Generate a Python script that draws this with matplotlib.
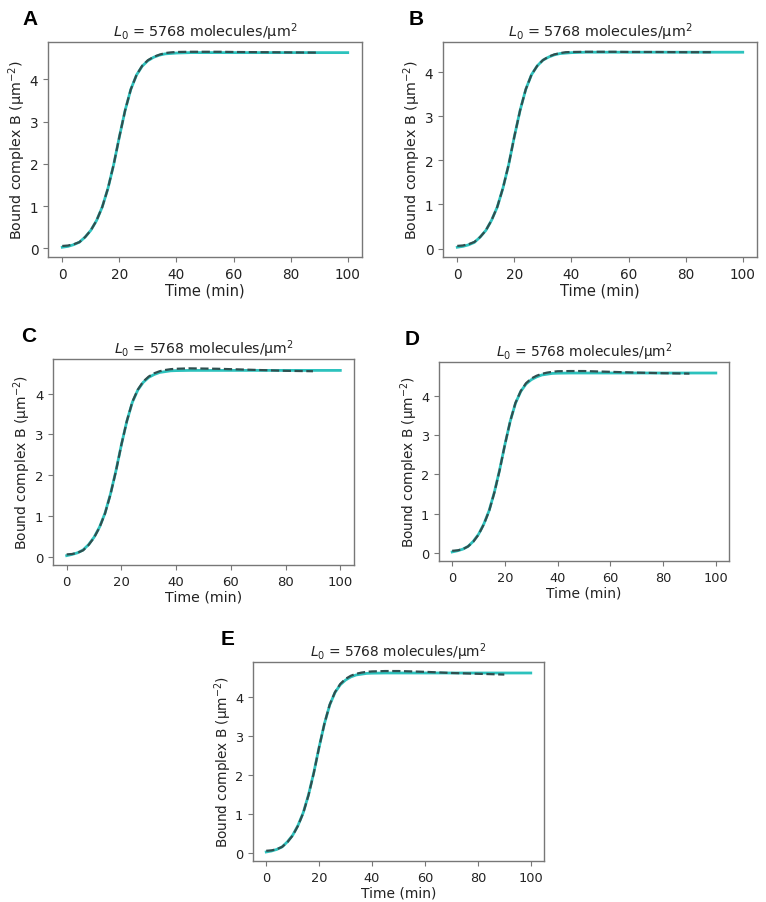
import matplotlib
matplotlib.use("Agg")
import matplotlib.pyplot as plt

# ---------------- data ----------------
time_model = [0, 2, 4, 6, 8, 10, 12, 14, 16, 18, 20, 22, 24, 26, 28, 30, 32, 34, 36, 38, 40,
              45, 50, 55, 60, 70, 80, 90, 100]
time_data = [0, 2, 4, 6, 8, 10, 12, 14, 16, 18, 20, 22, 24, 26, 28, 30, 32, 34, 36, 38, 40,
             45, 50, 55, 60, 70, 80, 90]

model_A = [0.03, 0.05, 0.09, 0.15, 0.27, 0.43, 0.66, 0.98, 1.42, 1.98, 2.64, 3.26, 3.76, 4.10,
           4.31, 4.44, 4.52, 4.57, 4.60, 4.61, 4.62, 4.63, 4.63, 4.63, 4.63, 4.63, 4.63, 4.63, 4.63]
data_A = [0.06, 0.07, 0.10, 0.15, 0.27, 0.43, 0.66, 0.98, 1.42, 1.98, 2.64, 3.26, 3.76, 4.10,
          4.32, 4.45, 4.53, 4.58, 4.62, 4.635, 4.645, 4.65, 4.65, 4.65, 4.645, 4.64, 4.635, 4.63]

model_B = [0.03, 0.05, 0.085, 0.14, 0.26, 0.41, 0.64, 0.94, 1.37, 1.90, 2.54, 3.13, 3.61, 3.94,
           4.14, 4.27, 4.34, 4.39, 4.42, 4.43, 4.44, 4.45, 4.45, 4.45, 4.45, 4.45, 4.45, 4.45, 4.45]
data_B = [0.06, 0.07, 0.10, 0.15, 0.26, 0.41, 0.64, 0.94, 1.37, 1.90, 2.54, 3.13, 3.61, 3.94,
          4.14, 4.27, 4.35, 4.40, 4.43, 4.45, 4.455, 4.46, 4.46, 4.46, 4.455, 4.455, 4.45, 4.45]

model_C = [0.03, 0.06, 0.10, 0.17, 0.30, 0.48, 0.73, 1.07, 1.54, 2.11, 2.75, 3.33, 3.79, 4.09,
           4.28, 4.40, 4.47, 4.52, 4.54, 4.56, 4.565, 4.57, 4.57, 4.57, 4.57, 4.57, 4.57, 4.57, 4.57]
data_C = [0.06, 0.07, 0.10, 0.16, 0.29, 0.47, 0.72, 1.06, 1.53, 2.10, 2.75, 3.33, 3.80, 4.10,
          4.30, 4.42, 4.50, 4.55, 4.58, 4.60, 4.61, 4.62, 4.615, 4.61, 4.60, 4.58, 4.56, 4.55]

model_D = [0.03, 0.06, 0.10, 0.17, 0.30, 0.48, 0.74, 1.08, 1.55, 2.12, 2.76, 3.35, 3.81, 4.11,
           4.30, 4.41, 4.48, 4.53, 4.55, 4.57, 4.575, 4.58, 4.58, 4.58, 4.58, 4.58, 4.58, 4.58, 4.58]
data_D = [0.06, 0.07, 0.10, 0.17, 0.29, 0.47, 0.73, 1.07, 1.54, 2.11, 2.76, 3.35, 3.82, 4.12,
          4.32, 4.44, 4.51, 4.56, 4.59, 4.61, 4.625, 4.63, 4.63, 4.62, 4.61, 4.59, 4.575, 4.565]

model_E = [0.03, 0.055, 0.095, 0.16, 0.29, 0.46, 0.71, 1.04, 1.50, 2.07, 2.72, 3.32, 3.80, 4.12,
           4.32, 4.44, 4.52, 4.57, 4.59, 4.61, 4.615, 4.62, 4.62, 4.62, 4.62, 4.62, 4.62, 4.62, 4.62]
data_E = [0.06, 0.07, 0.10, 0.16, 0.28, 0.45, 0.70, 1.03, 1.49, 2.06, 2.72, 3.32, 3.81, 4.13,
          4.34, 4.47, 4.55, 4.60, 4.63, 4.65, 4.66, 4.67, 4.67, 4.66, 4.65, 4.62, 4.60, 4.58]

panel_letters = ["A", "B", "C", "D", "E"]
title_text = r"$L_0$ = 5768 molecules/μm$^2$"
xlabel_text = "Time (min)"
ylabel_text = r"Bound complex B (μm$^{-2}$)"
x_ticks = [0, 20, 40, 60, 80, 100]
y_ticks = [0, 1, 2, 3, 4]

models = [model_A, model_B, model_C, model_D, model_E]
datas = [data_A, data_B, data_C, data_D, data_E]

# ---------------- layout (pixels) ----------------
W, H = 766, 903
# left, right, top, bottom of axes boxes
boxes = [(48, 362, 43, 258), (443, 757, 43, 258), (53, 354, 360, 566),
         (439, 729, 363, 562), (253, 544, 663, 862)]
letter_pos = [(22, 10), (409, 10), (21, 327), (405, 330), (221, 630)]
font_scale = [1.0, 1.0, 0.97, 0.95, 0.95]

plt.rcParams['font.family'] = ['DejaVu Sans']
plt.rcParams['mathtext.fontset'] = 'dejavusans'

fig = plt.figure(figsize=(W / 100, H / 100), dpi=100)
fig.patch.set_facecolor('white')

solid_color = '#2cc2bd'
dash_color = '#2f4f4f'
spine_color = '#777777'
text_color = '#222222'

for i in range(5):
    l, r, t, b = boxes[i]
    ax = fig.add_axes([l / W, 1 - b / H, (r - l) / W, (b - t) / H])
    s = font_scale[i]
    ax.plot(time_model, models[i], color=solid_color, lw=2.0, zorder=2)
    ax.plot(time_data, datas[i], color=dash_color, lw=1.6, ls='--', zorder=3)
    ax.set_xticks(x_ticks)
    ax.set_yticks(y_ticks)
    ax.tick_params(labelsize=9.8 * s, colors=spine_color, labelcolor=text_color,
                   length=3.5, width=0.8)
    ax.set_xlabel(xlabel_text, fontsize=10.5 * s, color=text_color, labelpad=1)
    ax.set_ylabel(ylabel_text, fontsize=10.3 * s, color=text_color, labelpad=1)
    ax.set_title(title_text, fontsize=10.4 * s, color=text_color, pad=4)
    for sp in ax.spines.values():
        sp.set_color(spine_color)
        sp.set_linewidth(1.0)
    lx, ly = letter_pos[i]
    fig.text(lx / W, 1 - ly / H, panel_letters[i], fontsize=15, fontweight='bold',
             family=['Liberation Sans', 'DejaVu Sans'], ha='left', va='top', color='black')

fig.savefig('out.png', dpi=100, facecolor='white')
